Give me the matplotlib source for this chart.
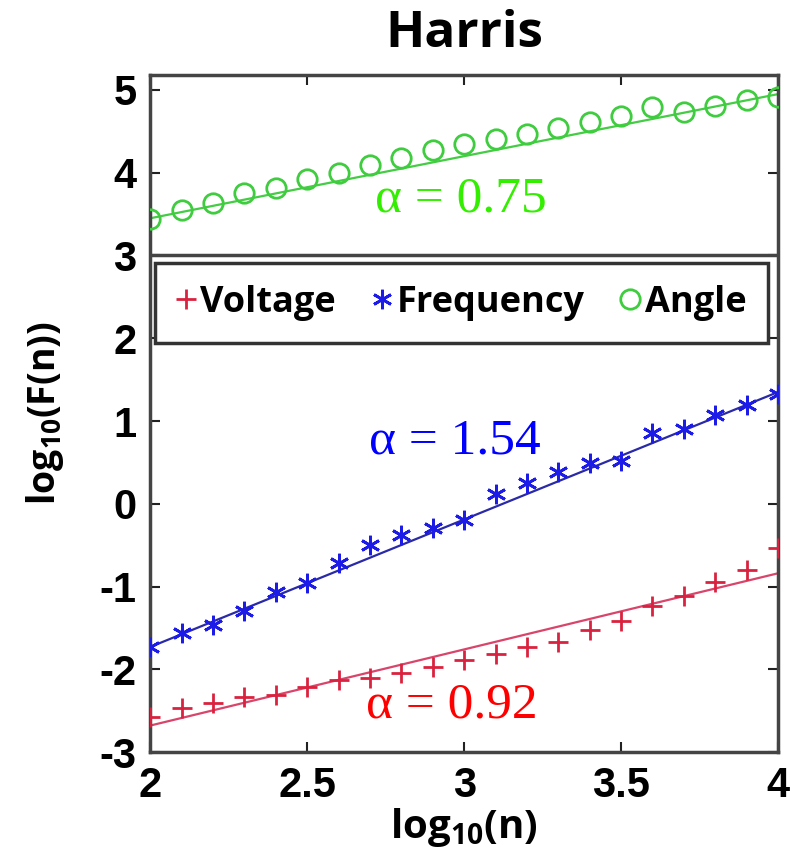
import numpy as np
import matplotlib
matplotlib.use("Agg")
import matplotlib.pyplot as plt

plt.rcParams["axes.unicode_minus"] = False
plt.rcParams["mathtext.fontset"] = "custom"
plt.rcParams["mathtext.rm"] = "Open Sans:bold"
plt.rcParams["mathtext.bf"] = "Open Sans:bold"

# log10(n) positions
log_n = [2.0, 2.1, 2.2, 2.3, 2.4, 2.5, 2.6, 2.7, 2.8, 2.9, 3.0,
         3.1, 3.2, 3.3, 3.4, 3.5, 3.6, 3.7, 3.8, 3.9, 4.0]

# log10(F(n)) for each series
voltage = [-2.58, -2.47, -2.41, -2.34, -2.31, -2.21, -2.13, -2.10, -2.05, -1.97, -1.89,
           -1.81, -1.73, -1.67, -1.53, -1.42, -1.23, -1.11, -0.95, -0.80, -0.54]
frequency = [-1.73, -1.56, -1.47, -1.29, -1.07, -0.96, -0.71, -0.50, -0.38, -0.29, -0.20,
             0.12, 0.25, 0.38, 0.49, 0.52, 0.85, 0.90, 1.07, 1.19, 1.33]
angle = [3.44, 3.55, 3.63, 3.75, 3.82, 3.92, 4.00, 4.09, 4.18, 4.27, 4.35,
         4.41, 4.47, 4.54, 4.61, 4.68, 4.80, 4.73, 4.81, 4.88, 4.91]

# fitted slopes and values of the fit at log10(n) = 2
alphas = [0.92, 1.54, 0.75]
intercepts = [-2.68, -1.73, 3.45]
labels = ["Voltage", "Frequency", "Angle"]

label_font = "Open Sans"
tick_font = "Liberation Sans"

fig = plt.figure(figsize=(7.91, 8.58), dpi=100)
ax = fig.add_axes([0.19, 0.1235, 0.7936, 0.789])

x = np.array(log_n)
series = [voltage, frequency, angle]
mk_colors = ["#d9223f", "#1c1ce6", "#3fcc3f"]
line_colors = ["#d9456a", "#2a2aa8", "#44cc44"]
txt_colors = ["#ff0000", "#0000ff", "#33ee00"]
markers = ["+", (6, 2, 0), "o"]
sizes = [15, 14, 14]

for ys, a, b, mc, lc, m, s, lab in zip(series, alphas, intercepts, mk_colors,
                                        line_colors, markers, sizes, labels):
    ax.plot(x, b + a * (x - x[0]), color=lc, lw=1.6, zorder=2)
    ax.plot(x, ys, ls="none", marker=m, ms=s, mfc="none", mec=mc, mew=2.0,
            label=lab, zorder=3)

# alpha annotations
ax.text(2.99, 3.68, "α = 0.75", color=txt_colors[2], fontsize=37,
        family="Liberation Serif", ha="center", va="center")
ax.text(2.97, 0.76, "α = 1.54", color=txt_colors[1], fontsize=37,
        family="Liberation Serif", ha="center", va="center")
ax.text(2.96, -2.43, "α = 0.92", color=txt_colors[0], fontsize=37,
        family="Liberation Serif", ha="center", va="center")

ax.axhline(3, color="#444444", lw=2.5, zorder=4)

ax.set_xlim(2, 4)
ax.set_ylim(-3, 5.18)
ax.set_xticks([2, 2.5, 3, 3.5, 4])
ax.set_xticklabels(["2", "2.5", "3", "3.5", "4"])
ax.set_yticks(range(-3, 6))
ax.tick_params(direction="in", length=7, width=1.5, top=True, right=True,
               color="#222222", pad=10)
for lbl in ax.get_xticklabels() + ax.get_yticklabels():
    lbl.set_family(tick_font)
    lbl.set_fontweight("bold")
    lbl.set_fontsize(30)
for sp in ax.spines.values():
    sp.set_linewidth(2.5)
    sp.set_color("#444444")

ax.set_xlabel(r"$\mathbf{log_{10}(n)}$", fontsize=29, labelpad=0)
ax.set_ylabel(r"$\mathbf{log_{10}(F(n))}$", fontsize=27, labelpad=24)
ax.set_title("Harris", fontsize=37, fontweight="bold", family=label_font, pad=20)

leg = ax.legend(loc="center", ncol=3, mode="expand",
                bbox_to_anchor=(0.008, 0.594, 0.976, 0.139), borderaxespad=0,
                prop={"family": label_font, "weight": "bold", "size": 26},
                handlelength=0.5, handletextpad=0.15, columnspacing=0.4,
                fancybox=False, borderpad=0.6, framealpha=1, markerscale=1.0)
leg.get_frame().set_edgecolor("#333333")
leg.get_frame().set_linewidth(2.5)

fig.savefig("out.png", dpi=100)
